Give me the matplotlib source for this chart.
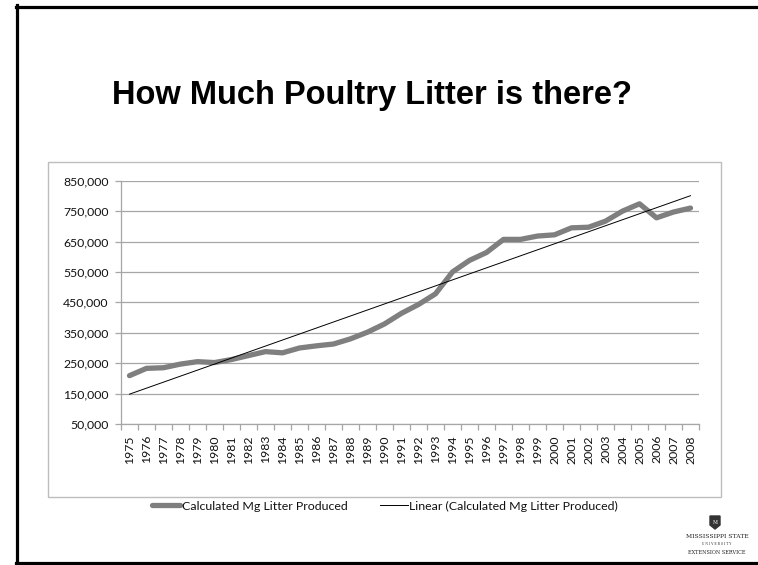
import numpy as np
import matplotlib
matplotlib.use("Agg")
import matplotlib.pyplot as plt
from matplotlib.lines import Line2D
from matplotlib.patches import Rectangle, Polygon
from matplotlib.ticker import FuncFormatter, FixedLocator

# calculated litter produced per year (Mg)
years = list(range(1975, 2009))
litter = [209000, 233000, 235000, 247000, 255000, 252000, 262000, 275000, 288000, 284000,
          300000, 307000, 313000, 330000, 352000, 379000, 414000, 443000, 478000, 550000,
          588000, 614000, 657000, 657000, 668000, 672000, 695000, 697000, 717000, 750000,
          774000, 728000, 747000, 760000]
y_ticks = list(range(50000, 850001, 100000))

title = "How Much Poultry Litter is there?"
series_name = "Calculated Mg Litter Produced"
trend_name = "Linear (Calculated Mg Litter Produced)"

W, H = 758, 565
GRID = "#a6a6a6"
FONT = "Lato"

def fx(px):
    return px / W

def fy(py):
    return 1 - py / H

fig = plt.figure(figsize=(W / 100, H / 100), dpi=100)

# slide frame (left, top, bottom edges)
for xs, ys in [((17, 17), (5, 565)), ((16, 758), (6.5, 6.5)), ((16, 758), (563, 563))]:
    fig.add_artist(Line2D([fx(x) for x in xs], [fy(y) for y in ys], color="black", lw=2.3))

fig.text(fx(112), fy(104), title, fontsize=23.5, fontweight="bold",
         family="Liberation Sans", ha="left", va="baseline")

# chart border
fig.add_artist(Rectangle((fx(48), fy(497)), fx(721) - fx(48), fy(162) - fy(497),
                         transform=fig.transFigure, fill=False, edgecolor="#bdbdbd", lw=1.0))

ax = fig.add_axes([fx(121), fy(424), fx(699) - fx(121), fy(180.7) - fy(424)])
x = np.arange(len(years))
ax.plot(x, litter, color="#7f7f7f", lw=3.8, solid_capstyle="round", solid_joinstyle="round",
        label=series_name, zorder=3)

slope, icpt = np.polyfit(x, litter, 1)
ax.plot(x, slope * x + icpt, color="black", lw=0.7, label=trend_name, zorder=4)

ax.set_xlim(-0.5, len(years) - 0.5)
ax.set_ylim(y_ticks[0], y_ticks[-1])
ax.set_yticks(y_ticks)
ax.yaxis.set_major_formatter(FuncFormatter(lambda v, p: f"{int(v):,}"))
ax.grid(axis="y", color=GRID, lw=0.9)
ax.set_axisbelow(True)

ax.xaxis.set_major_locator(FixedLocator(np.arange(-0.5, len(years), 1.0)))
ax.xaxis.set_minor_locator(FixedLocator(x))
ax.set_xticklabels([])
ax.set_xticklabels([str(yr) for yr in years], minor=True, rotation=90)
ax.tick_params(axis="x", which="major", length=4, color=GRID, width=0.9)
ax.tick_params(axis="x", which="minor", length=0, pad=8)
ax.tick_params(axis="y", length=4, color=GRID, width=0.9, pad=5)
for lab in ax.get_xticklabels(minor=True) + ax.get_yticklabels():
    lab.set_family(FONT)
    lab.set_fontsize(8.8)
    lab.set_color("#111111")

for side in ("top", "right"):
    ax.spines[side].set_visible(False)
for side in ("left", "bottom"):
    ax.spines[side].set_color(GRID)
    ax.spines[side].set_linewidth(0.9)

leg = fig.legend(loc="center", bbox_to_anchor=(fx(385), fy(506)), ncol=2, frameon=False,
                 handlelength=2.3, handletextpad=0.1, columnspacing=2.6,
                 prop={"family": FONT, "size": 8.9})
for t in leg.get_texts():
    t.set_color("#111111")

# extension service mark
shield = Polygon([(fx(710), fy(516)), (fx(720), fy(516)), (fx(720), fy(525)),
                  (fx(715), fy(529)), (fx(710), fy(525))], closed=True,
                 transform=fig.transFigure, facecolor="#333333", edgecolor="#333333")
fig.add_artist(shield)
fig.text(fx(715), fy(522), "M", fontsize=3.5, color="white", ha="center", va="center",
         family="DejaVu Serif")
fig.text(fx(717), fy(537), "MISSISSIPPI STATE", fontsize=4.3, family="DejaVu Serif",
         ha="center", va="center", color="#222222")
fig.text(fx(717), fy(544), "U N I V E R S I T Y", fontsize=2.2, family="DejaVu Serif",
         ha="center", va="center", color="#222222")
fig.text(fx(717), fy(552), "EXTENSION SERVICE", fontsize=3.6, family="DejaVu Serif",
         ha="center", va="center", color="#222222")

fig.savefig("out.png", dpi=100)
